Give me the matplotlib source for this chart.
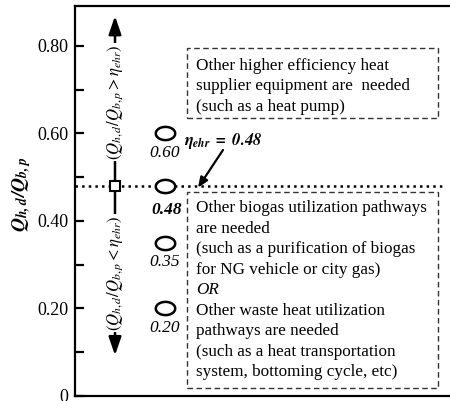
import matplotlib
matplotlib.use('Agg')
import matplotlib.pyplot as plt
import numpy as np
from matplotlib.path import Path
from matplotlib.patches import Rectangle

plt.rcParams['font.family'] = ['Liberation Serif', 'DejaVu Serif']
plt.rcParams['mathtext.fontset'] = 'stix'

# data
eta_ehr = 0.48
cases = [0.60, 0.48, 0.35, 0.20]
case_labels = ['0.60', '0.48', '0.35', '0.20']
y_major = [0, 0.2, 0.4, 0.6, 0.8]
y_major_labels = ['0', '0.20', '0.40', '0.60', '0.80']
y_minor = [0.1, 0.3, 0.5, 0.7]

top_box_lines = ["Other higher efficiency heat",
                 "supplier equipment are  needed",
                 "(such as a heat pump)"]
low_box_lines = ["Other biogas utilization pathways",
                 "are needed",
                 "(such as a purification of biogas",
                 "for NG vehicle or city gas)",
                 "OR",
                 "Other waste heat utilization",
                 "pathways are needed",
                 "(such as a heat transportation",
                 "system, bottoming cycle, etc)"]

fig = plt.figure(figsize=(4.5, 4.01), dpi=100)
ax = fig.add_axes([75/450, 5/401, 375/450, 390/401])
ax.set_xlim(0, 375)
ax.set_ylim(0, 0.891)

for s in ['left', 'top', 'bottom']:
    ax.spines[s].set_linewidth(1.6)
ax.spines['right'].set_visible(False)
ax.set_xticks([])
ax.set_yticks(y_major)
ax.set_yticklabels(y_major_labels)
ax.set_yticks(y_minor, minor=True)
ax.tick_params(axis='y', which='both', direction='in', length=6.5, width=1.6,
               labelsize=13, pad=5)

ax.set_ylabel(r'$\mathbfit{Q_{h,d}/Q_{b,p}}$', fontsize=14)
ax.yaxis.set_label_coords(-0.112, 0.518)

# threshold line
ax.plot([0, 367], [eta_ehr, eta_ehr], ls=':', lw=1.8, color='black', zorder=2)

# vertical arrows
xv = 40
head = '-|>,head_length=1.1,head_width=0.38'
ax.annotate('', xy=(xv, 0.868), xytext=(xv, eta_ehr), zorder=2,
            arrowprops=dict(arrowstyle=head, lw=1.8, color='black',
                            shrinkA=0, shrinkB=0))
ax.annotate('', xy=(xv, 0.093), xytext=(xv, eta_ehr), zorder=2,
            arrowprops=dict(arrowstyle=head, lw=1.8, color='black',
                            shrinkA=0, shrinkB=0))
ax.text(xv, 0.672, r'$(Q_{h,d}/Q_{b,p} > \eta_{ehr})$', rotation=90,
        ha='center', va='center', fontsize=12,
        bbox=dict(facecolor='white', edgecolor='none', pad=1.0), zorder=3)
ax.text(xv, 0.281, r'$(Q_{h,d}/Q_{b,p} < \eta_{ehr})$', rotation=90,
        ha='center', va='center', fontsize=12,
        bbox=dict(facecolor='white', edgecolor='none', pad=1.0), zorder=3)
ax.plot([xv], [eta_ehr], marker='s', ms=7, mfc='white', mec='black', mew=1.5,
        zorder=5)

# elliptic circle markers
t = np.linspace(0, 2*np.pi, 60)
ell = Path(np.column_stack([np.cos(t), 0.68*np.sin(t)]))
ax.plot([90]*len(cases), cases, ls='none', marker=ell, ms=14, mfc='white',
        mec='black', mew=1.8, zorder=5)
for v, lab in zip(cases, case_labels):
    if v == eta_ehr:
        ax.annotate(lab, (90, v), xytext=(1.5, -17.5), textcoords='offset points',
                    ha='center', va='center', fontsize=12.5, style='italic',
                    weight='bold')
    else:
        ax.annotate(lab, (90, v), xytext=(0, -14), textcoords='offset points',
                    ha='center', va='center', fontsize=12.5, style='italic')

# eta label with arrow
ax.annotate('', xy=(123, 0.476), xytext=(148, 0.562),
            arrowprops=dict(arrowstyle='-|>,head_length=0.6,head_width=0.25',
                            lw=1.6, color='black', shrinkA=0, shrinkB=0))
ax.text(109, 0.583, r'$\mathbfit{\eta_{ehr}\ =\ 0.48}$', fontsize=12,
        ha='left', va='center')

# boxes
ax.add_patch(Rectangle((112, 0.634), 251, 0.16, fill=False, ls=(0, (4, 2.5)),
                       lw=1.0, ec='#333333', zorder=4))
for i, line in enumerate(top_box_lines):
    ax.text(121, 0.755 - i*0.0475, line, fontsize=12.3, va='center', ha='left')

ax.add_patch(Rectangle((112, 0.018), 251, 0.447, fill=False, ls=(0, (4, 2.5)),
                       lw=1.0, ec='#333333', zorder=4))
for i, line in enumerate(low_box_lines):
    ax.text(121, 0.4295 - i*0.0469, line, fontsize=12.3, va='center', ha='left',
            style='italic' if line == 'OR' else 'normal')

fig.savefig('out.png', dpi=100)
